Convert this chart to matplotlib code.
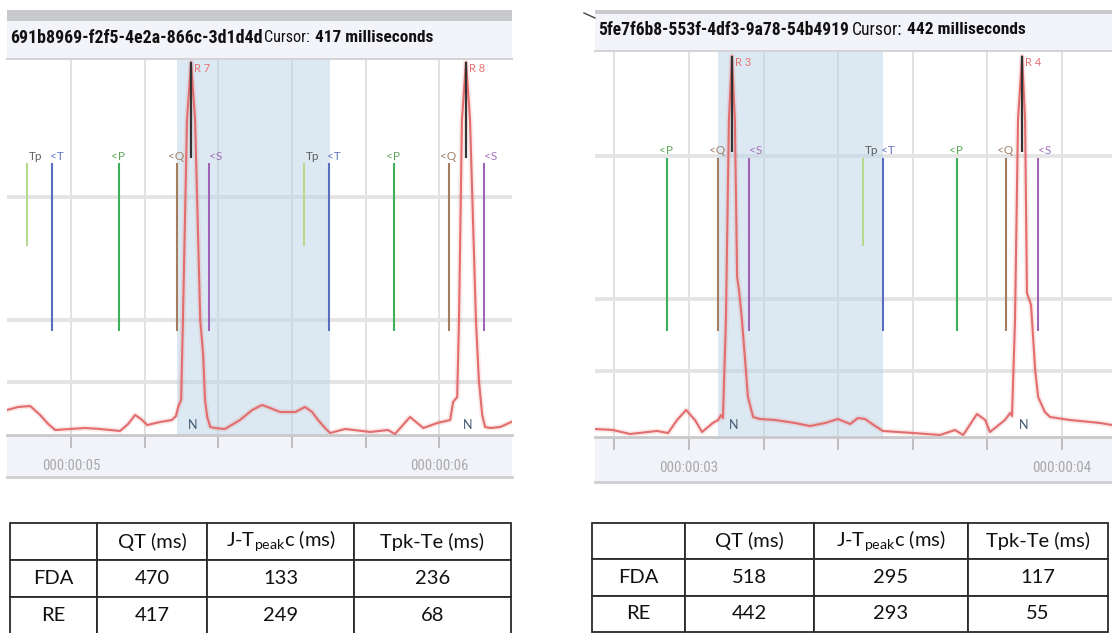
import numpy as np
import matplotlib
matplotlib.use("Agg")
import matplotlib.pyplot as plt
from matplotlib import font_manager as fm
from matplotlib.patches import Rectangle
from matplotlib.lines import Line2D
import matplotlib.transforms as mtransforms

# ---------------- data ----------------
left_id = "691b8969-f2f5-4e2a-866c-3d1d4d"
left_cursor_ms = 417
left_time_ms = [4826, 4856, 4889, 4916, 4938, 4957, 4997, 5038, 5079, 5133, 5155, 5174, 5190, 5207,
                5242, 5274, 5285, 5291, 5299, 5304, 5315, 5326, 5337, 5351, 5359, 5364, 5370, 5378,
                5391, 5418, 5459, 5492, 5519, 5541, 5568, 5609, 5636, 5655, 5671, 5690, 5704, 5745,
                5813, 5861, 5880, 5921, 5957, 5995, 6030, 6038, 6049, 6054, 6062, 6073, 6084, 6100,
                6108, 6117, 6125, 6139, 6166, 6196]
left_ecg_mv = [0.20, 0.23, 0.24, 0.15, 0.06, 0.00, 0.01, 0.02, 0.01, -0.01, 0.06, 0.15, 0.11, 0.05,
               0.08, 0.10, 0.14, 0.23, 0.30, 1.10, 3.10, 3.68, 3.10, 1.10, 0.75, 0.30, 0.13, 0.03,
               0.02, 0.01, 0.10, 0.20, 0.25, 0.22, 0.18, 0.18, 0.23, 0.18, 0.10, 0.02, -0.03, 0.01,
               -0.02, 0.00, -0.04, 0.13, 0.02, 0.07, 0.10, 0.28, 0.33, 1.10, 3.10, 3.68, 3.10, 1.10,
               0.50, 0.15, 0.03, 0.02, 0.03, 0.08]
left_marker_names = ["Tp", "<T", "<P", "<Q", "<S", "Tp", "<T", "<P", "<Q", "<S"]
left_marker_ms = [4880, 4948, 5130, 5287, 5375, 5633, 5701, 5878, 6027, 6122]
left_r_ms = [5326, 6073]
left_r_labels = ["R 7", "R 8"]
left_beat_labels = ["N", "N"]
left_tick_ms = [5000, 5200, 5400, 5600, 5800, 6000]
left_tick_labels = ["000:00:05", "", "", "", "", "000:00:06"]

right_id = "5fe7f6b8-553f-4df3-9a78-54b4919"
right_cursor_ms = 442
right_time_ms = [2748, 2796, 2842, 2914, 2944, 2968, 2992, 3016, 3035, 3064, 3078, 3086, 3091, 3099,
                 3107, 3115, 3123, 3129, 3134, 3142, 3158, 3172, 3190, 3231, 3284, 3324, 3365, 3399,
                 3432, 3453, 3472, 3499, 3520, 3601, 3673, 3713, 3735, 3772, 3794, 3807, 3847, 3861,
                 3866, 3874, 3882, 3893, 3901, 3906, 3917, 3928, 3936, 3954, 3968, 4021, 4102, 4134]
right_ecg_mv = [0.01, 0.00, -0.04, -0.01, -0.03, 0.10, 0.20, 0.10, -0.02, 0.07, 0.10, 0.15, 0.12, 1.10,
                3.10, 3.74, 3.10, 1.53, 1.40, 1.10, 0.33, 0.13, 0.11, 0.10, 0.07, 0.04, 0.07, 0.11,
                0.06, 0.12, 0.11, 0.04, -0.01, -0.03, -0.05, 0.00, -0.05, 0.16, 0.10, -0.02, 0.10, 0.17,
                0.14, 1.10, 3.10, 3.74, 3.10, 1.37, 1.25, 0.60, 0.33, 0.18, 0.13, 0.10, 0.07, 0.05]
right_marker_names = ["<P", "<Q", "<S", "Tp", "<T", "<P", "<Q", "<S"]
right_marker_ms = [2941, 3078, 3161, 3466, 3520, 3719, 3850, 3936]
right_r_ms = [3115, 3893]
right_r_labels = ["R 3", "R 4"]
right_beat_labels = ["N", "N"]
right_tick_ms = [2800, 3000, 3200, 3400, 3600, 3800, 4000]
right_tick_labels = ["", "000:00:03", "", "", "", "", "000:00:04"]

table_header = ["", "QT (ms)", "J-T$_{\\mathregular{peak}}$c (ms)", "Tpk-Te (ms)"]
table_rows = ["FDA", "RE"]
left_fda = [470, 133, 236]
left_re = [417, 249, 68]
right_fda = [518, 295, 117]
right_re = [442, 293, 55]

# ---------------- fonts ----------------
def pick(*names):
    for n in names:
        try:
            fm.findfont(fm.FontProperties(family=n), fallback_to_default=False)
            return n
        except Exception:
            pass
    return "DejaVu Sans"


def find_narrow(bold):
    prefs = ["Liberation Sans Narrow", "Roboto Condensed", "Open Sans Condensed",
             "Noto Sans Condensed", "DejaVu Sans Condensed", "DejaVu Sans"]
    want_w = 700 if bold else 400
    cands = []
    for f in fm.fontManager.ttflist:
        nm = f.name
        path = f.fname
        narrow = ("Narrow" in nm or "Condensed" in nm or "Condensed" in path or "Narrow" in path
                  or str(f.stretch) in ("condensed", "semi-condensed"))
        if not narrow or "Italic" in path or "Oblique" in path or f.style != "normal":
            continue
        try:
            w = int(f.weight)
        except Exception:
            w = 700 if "bold" in str(f.weight) else 400
        if abs(w - want_w) > 100:
            continue
        rank = len(prefs)
        for i, p in enumerate(prefs):
            if nm.startswith(p.split()[0]):
                rank = i
                break
        cands.append((rank, path))
    if cands:
        cands.sort()
        return fm.FontProperties(fname=cands[0][1])
    return None


F_TAB = pick("Lato", "Open Sans")
F_TICK = pick("Liberation Sans")
F_SMALL = pick("Lato", "DejaVu Sans")
NARROW_B = find_narrow(True)
NARROW_R = find_narrow(False)
plt.rcParams["mathtext.fontset"] = "custom"
plt.rcParams["mathtext.rm"] = F_TAB

marker_colors = {"Tp": "#b7d98f", "<T": "#5a6ec0", "<P": "#3fb05a", "<Q": "#a57c5e", "<S": "#a064b6"}
label_colors = {"Tp": "#5f5f5f", "<T": "#6576c4", "<P": "#5fa85a", "<Q": "#a0806a", "<S": "#9f70bb"}
label_dx = {"Tp": 2, "<T": -2, "<P": -8, "<Q": -9, "<S": 0}
ECG_RED = "#e36c6c"

W, H = 1112, 633
fig = plt.figure(figsize=(W / 100, H / 100), dpi=100)
fig.patch.set_facecolor("white")


def fr(x0, y0, x1, y1):
    return [x0 / W, 1 - y1 / H, (x1 - x0) / W, (y1 - y0) / H]


bg = fig.add_axes([0, 0, 1, 1], zorder=-10)
bg.set_xlim(0, W)
bg.set_ylim(H, 0)
bg.axis("off")

panels = [
    dict(x0=7, x1=512, gray=(10, 21), bar=(21, 58), top=60, bottom=435, band_bot=477, text_y=38,
         xlim=(4826, 6198), ylim=(-0.05, 3.70), hgrid=[0.48, 1.10, 2.33],
         label_y=2.68, line_top=2.67, r_line_bot=2.72, id_x1=262, cur_x=(264, 310), ms_x=(315, 433),
         ident=left_id, cursor=left_cursor_ms, t=left_time_ms, v=left_ecg_mv,
         names=left_marker_names, mks=left_marker_ms, rms=left_r_ms, rlab=left_r_labels,
         blab=left_beat_labels, ticks=left_tick_ms, ticklab=left_tick_labels),
    dict(x0=595, x1=1112, gray=(10, 14), bar=(14, 50), top=52, bottom=437, band_bot=482, text_y=30,
         xlim=(2748, 4134), ylim=(-0.07, 3.78), hgrid=[0.59, 1.31, 2.74],
         label_y=2.74, line_top=2.72, r_line_bot=2.78, id_x1=848, cur_x=(852, 902), ms_x=(907, 1026),
         ident=right_id, cursor=right_cursor_ms, t=right_time_ms, v=right_ecg_mv,
         names=right_marker_names, mks=right_marker_ms, rms=right_r_ms, rlab=right_r_labels,
         blab=right_beat_labels, ticks=right_tick_ms, ticklab=right_tick_labels),
]

renderer = fig.canvas.get_renderer()


def fit_text(x0, x1, yc, s, bold):
    fp = NARROW_B if bold else NARROW_R
    if fp is not None:
        t = bg.text(x0, yc, s, ha="left", va="center", fontproperties=fp.copy(), color="#111111")
        t.set_fontsize(12)
    else:
        t = bg.text(x0, yc, s, ha="left", va="center", fontsize=12,
                    weight="bold" if bold else "normal", family=[F_SMALL, "DejaVu Sans"], color="#111111")
    bb = t.get_window_extent(renderer)
    t.set_fontsize(12 * (x1 - x0) / bb.width)
    return t


for p in panels:
    x0, x1 = p["x0"], p["x1"]
    # header bars
    bg.add_patch(Rectangle((x0, p["gray"][0]), x1 - x0, p["gray"][1] - p["gray"][0], color="#c8c9cc", lw=0))
    bg.add_patch(Rectangle((x0, p["bar"][0]), x1 - x0, p["bar"][1] - p["bar"][0], color="#f3f4f9", lw=0))
    bg.plot([x0, x1], [p["bar"][1] + 1, p["bar"][1] + 1], color="#d4d4d6", lw=1.5)
    # axis band
    bg.add_patch(Rectangle((x0, p["bottom"]), x1 - x0, p["band_bot"] - p["bottom"], color="#f1f3f8", lw=0))
    bg.plot([x0, x1], [p["band_bot"], p["band_bot"]], color="#cfcfd2", lw=2)
    # header text
    fit_text(x0 + 3, p["id_x1"], p["text_y"], p["ident"], True)
    fit_text(p["cur_x"][0], p["cur_x"][1], p["text_y"], "Cursor:", False)
    fit_text(p["ms_x"][0], p["ms_x"][1], p["text_y"], f"{p['cursor']} milliseconds", True)

    ax = fig.add_axes(fr(x0, p["top"], x1, p["bottom"]))
    ax.set_facecolor("white")
    ax.set_xlim(*p["xlim"])
    ax.set_ylim(*p["ylim"])
    ax.set_axisbelow(True)
    ax.set_xticks(p["ticks"])
    labs = ax.set_xticklabels(p["ticklab"], color="#a9a9ab")
    for lab in labs:
        if NARROW_R is not None:
            lab.set_fontproperties(NARROW_R.copy())
        else:
            lab.set_family(F_TICK)
        lab.set_fontsize(12)
    ax.set_yticks(p["hgrid"])
    ax.tick_params(axis="y", length=0, labelleft=False)
    ax.tick_params(axis="x", direction="out", length=9, width=1.2, color="#b4b4b6", pad=8)
    ax.xaxis.grid(True, color="#dedede", lw=1.3)
    ax.yaxis.grid(True, color="#e4e4e4", lw=2.8)
    for s in ["top", "left", "right"]:
        ax.spines[s].set_visible(False)
    ax.spines["bottom"].set_color("#c9c9cb")
    ax.spines["bottom"].set_linewidth(2)
    # fit tick label width
    fig.canvas.draw()
    nonempty = [lab for lab in ax.get_xticklabels() if lab.get_text()]
    if nonempty:
        wpx = nonempty[0].get_window_extent(renderer).width
        for lab in ax.get_xticklabels():
            lab.set_fontsize(12 * 58 / wpx)

    # QT window (Q onset + cursor duration)
    q_on = [m for n, m in zip(p["names"], p["mks"]) if n == "<Q"][0]
    ax.axvspan(q_on, q_on + p["cursor"], color="#bcd4e6", alpha=0.5, lw=0, zorder=1)

    # markers
    for n, m in zip(p["names"], p["mks"]):
        bot = 1.84 if n == "Tp" else 0.99
        ax.vlines(m, bot, p["line_top"], color=marker_colors[n], lw=1.5, zorder=2)
        tr = mtransforms.offset_copy(ax.transData, fig=fig, x=label_dx[n], y=0, units="dots")
        ax.text(m, p["label_y"], n, transform=tr, ha="left", va="bottom", fontsize=8.5,
                color=label_colors[n], family=[F_SMALL, "DejaVu Sans"], zorder=4)

    # ECG trace
    ax.plot(p["t"], p["v"], color=ECG_RED, lw=4, alpha=0.15, zorder=2.5, solid_joinstyle="round")
    ax.plot(p["t"], p["v"], color=ECG_RED, lw=1.5, zorder=3, solid_joinstyle="round")

    # R peak annotations
    for r, rl, bl in zip(p["rms"], p["rlab"], p["blab"]):
        peak = np.interp(r, p["t"], p["v"])
        ax.vlines(r, p["r_line_bot"], peak, color="#333333", lw=1.6, zorder=3.5)
        tr = mtransforms.offset_copy(ax.transData, fig=fig, x=3, y=-1, units="dots")
        ax.text(r, peak, rl, transform=tr, ha="left", va="top", fontsize=8, color="#e87070",
                family=[F_SMALL, "DejaVu Sans"], zorder=4)
        tr2 = mtransforms.offset_copy(ax.transData, fig=fig, x=2, y=0, units="dots")
        ax.text(r, 0.05, bl, transform=tr2, ha="center", va="center", fontsize=9, color="#3f5770",
                family=[F_SMALL, "DejaVu Sans"], zorder=4)

# small artefact stroke at top-left of right panel
bg.add_line(Line2D([584, 595], [13, 18], color="#444444", lw=1))

# ---------------- tables ----------------
tables = [
    dict(x=[10, 97, 207, 354, 511], y0=523, y1=634, fda=left_fda, re=left_re),
    dict(x=[592, 685, 814, 968, 1108], y0=523, y1=632, fda=right_fda, re=right_re),
]
for tb in tables:
    xs = tb["x"]
    tax = fig.add_axes(fr(xs[0], tb["y0"], xs[-1], tb["y1"]))
    tax.axis("off")
    widths = np.diff(xs) / (xs[-1] - xs[0])
    cells = [table_header,
             [table_rows[0]] + [str(v) for v in tb["fda"]],
             [table_rows[1]] + [str(v) for v in tb["re"]]]
    tbl = tax.table(cellText=cells, colWidths=list(widths), cellLoc="center", bbox=[0, 0, 1, 1])
    tbl.auto_set_font_size(False)
    for (r, c), cell in tbl.get_celld().items():
        cell.set_edgecolor("#2a2a2a")
        cell.set_linewidth(1.3)
        cell.get_text().set_fontsize(14.5)
        cell.get_text().set_family(F_TAB)
        cell.get_text().set_color("#111111")

fig.savefig("out.png", dpi=100, facecolor="white")
